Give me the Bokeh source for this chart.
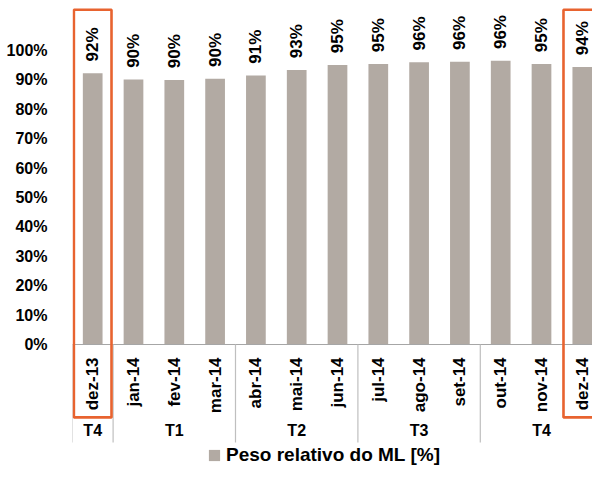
import math
from bokeh.plotting import figure
from bokeh.models import (Range1d, FixedTicker, NumeralTickFormatter, ColumnDataSource,
                          Legend, LegendItem)
from bokeh.core.properties import value
from bokeh.embed import file_html
from bokeh.resources import INLINE

months = ["dez-13", "jan-14", "fev-14", "mar-14", "abr-14", "mai-14", "jun-14",
          "jul-14", "ago-14", "set-14", "out-14", "nov-14", "dez-14"]
peso = [0.923, 0.901, 0.900, 0.904, 0.915, 0.934, 0.951, 0.954, 0.960, 0.962, 0.965, 0.954, 0.944]
peso_labels = ["92%", "90%", "90%", "90%", "91%", "93%", "95%", "95%", "96%", "96%", "96%", "95%", "94%"]
quarters = ["T4", "T1", "T2", "T3", "T4"]
quarter_first = [0, 1, 4, 7, 10]
quarter_last = [0, 3, 6, 9, 12]
highlight = [0, 12]
y_ticks = [0, 0.1, 0.2, 0.3, 0.4, 0.5, 0.6, 0.7, 0.8, 0.9, 1.0]
series_name = "Peso relativo do ML [%]"

FONT = "Liberation Sans, Arial, sans-serif"
BAR = "#B2AAA3"
ORANGE = "#E8632F"

xs = list(range(len(months)))

p = figure(width=592, height=467, output_backend="svg", toolbar_location=None,
           x_range=Range1d(-0.495, 12.25), y_range=Range1d(-0.4184, 1.1701),
           min_border_left=72, min_border_right=0, min_border_top=0, min_border_bottom=0)
p.xaxis.visible = False
p.xgrid.visible = False
p.ygrid.visible = False
p.outline_line_color = None
p.background_fill_color = "white"
p.border_fill_color = "white"

ya = p.yaxis[0]
ya.ticker = FixedTicker(ticks=y_ticks)
ya.formatter = NumeralTickFormatter(format="0%")
ya.axis_line_color = None
ya.major_tick_line_color = None
ya.minor_tick_line_color = None
ya.major_label_standoff = 19
ya.major_label_text_font = FONT
ya.major_label_text_font_style = "bold"
ya.major_label_text_font_size = "16px"
ya.major_label_text_color = "black"

src = ColumnDataSource(dict(x=xs, top=peso, lab=peso_labels,
                            ly=[v + 0.04 for v in peso], my=[-0.044] * len(months), m=months))
bars = p.vbar(x="x", top="top", bottom=0, width=0.483, source=src,
              fill_color=BAR, line_color=None)

# value labels
p.text(x="x", y="ly", text="lab", source=src, angle=math.pi / 2,
       text_align="left", text_baseline="middle", text_font=value(FONT),
       text_font_style="bold", text_font_size="17px", text_color="black")

# axis line at zero
p.segment(x0=[-0.5], y0=[0], x1=[12.6], y1=[0], line_color="#A6A6A6", line_width=1.2)

# separators between quarter groups
seps = [quarter_first[0] - 0.5] + [q + 0.5 for q in quarter_last[:-1]]
p.segment(x0=seps, y0=[0] * len(seps), x1=seps, y1=[-0.333] * len(seps),
          line_color="#BFBFBF", line_width=1.2)

# month labels
p.text(x="x", y="my", text="m", source=src, angle=math.pi / 2,
       text_align="right", text_baseline="middle", text_font=value(FONT),
       text_font_style="bold", text_font_size="17px", text_color="black")

# quarter labels
qx = [(a + b) / 2 for a, b in zip(quarter_first, quarter_last)]
p.text(x=qx, y=[-0.2925] * len(qx), text=quarters, text_align="center",
       text_baseline="middle", text_font=value(FONT), text_font_style="bold",
       text_font_size="16px", text_color="black")

# highlight boxes
p.quad(left=[h - 0.461 for h in highlight], right=[h + 0.461 for h in highlight],
       bottom=[-0.248] * len(highlight), top=[1.1384] * len(highlight),
       fill_color=None, line_color=ORANGE, line_width=2.6)

legend = Legend(items=[LegendItem(label=series_name, renderers=[bars])],
                location=(135, 1), orientation="horizontal",
                label_text_font=FONT, label_text_font_style="bold",
                label_text_font_size="19px", label_text_color="black",
                glyph_width=14, glyph_height=14, label_standoff=5,
                padding=0, margin=0, border_line_color=None,
                background_fill_alpha=0, label_height=20)
p.add_layout(legend)

open("out.html", "w").write(file_html(p, INLINE))
